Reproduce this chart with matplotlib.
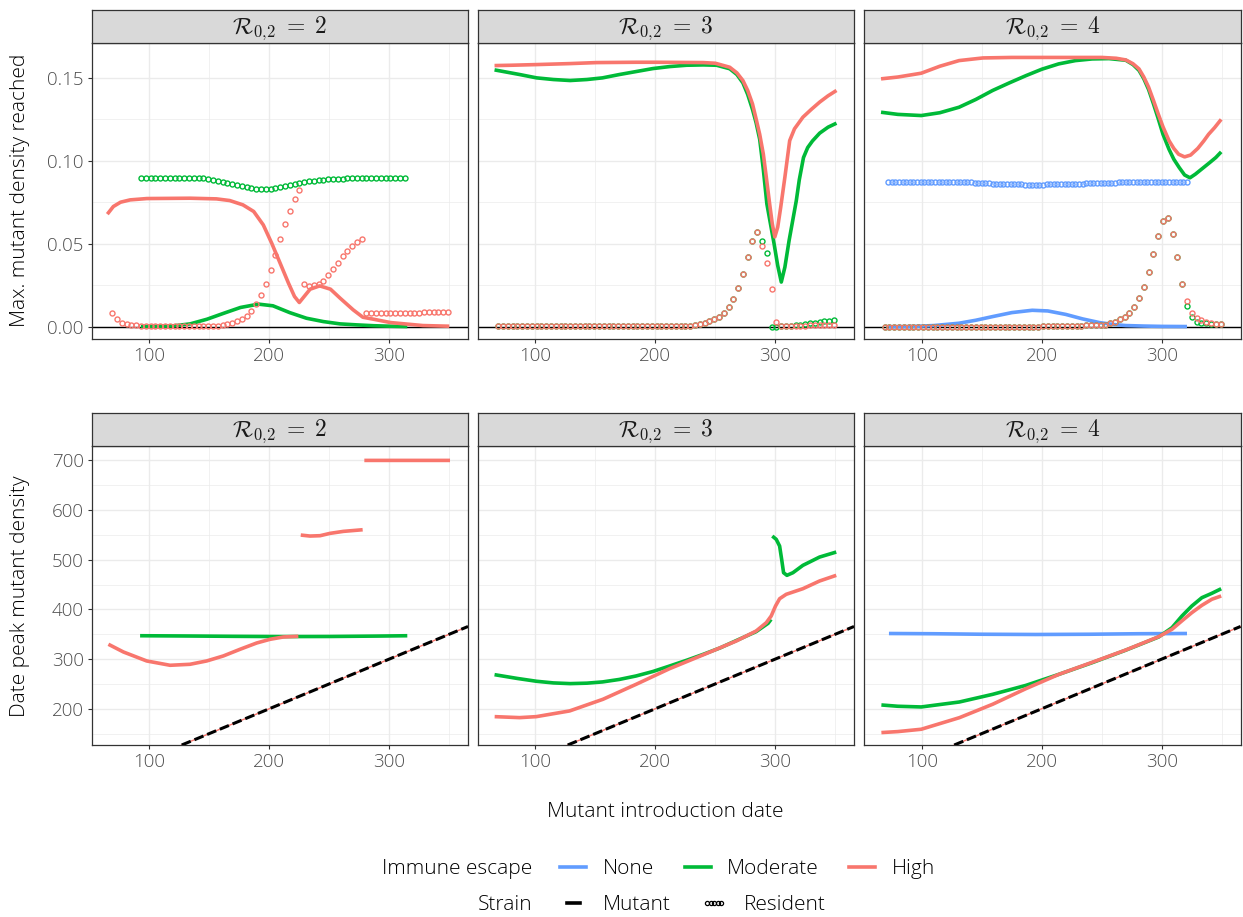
import numpy as np
import matplotlib
matplotlib.use("Agg")
import matplotlib.pyplot as plt
from matplotlib.lines import Line2D
from matplotlib.ticker import MultipleLocator, FormatStrFormatter

plt.rcParams['font.family'] = ['Open Sans', 'DejaVu Sans']
plt.rcParams['font.weight'] = 'light'
plt.rcParams['mathtext.fontset'] = 'cm'

col_none = '#619CFF'
col_mod = '#00BA38'
col_high = '#F8766D'

r0_labels = [r'$\mathcal{R}_{0,\!2}\;=\;2$', r'$\mathcal{R}_{0,\!2}\;=\;3$', r'$\mathcal{R}_{0,\!2}\;=\;4$']

# ---------------- top row: max mutant density (lines = mutant) ----------------
p1_mod_x = [93, 105, 120, 134, 148, 162, 176, 191, 203, 217, 231, 245, 259, 273, 287, 301, 315]
p1_mod_y = [0.0002, 0.0003, 0.0006, 0.0018, 0.0046, 0.0082, 0.0117, 0.0137, 0.0127, 0.0086,
            0.0052, 0.0032, 0.0018, 0.0012, 0.0007, 0.0004, 0.0002]
p1_high_x = [65, 70, 76, 84, 98, 134, 156, 167, 178, 187, 195, 202, 209, 216, 221, 225,
             234, 242, 251, 259, 270, 278, 287, 301, 328, 350]
p1_high_y = [0.0679, 0.0725, 0.0751, 0.0765, 0.0773, 0.0775, 0.0771, 0.0761, 0.0735, 0.0695,
             0.0614, 0.0504, 0.0384, 0.0263, 0.0183, 0.0147, 0.0227, 0.0247, 0.0227, 0.0173,
             0.0102, 0.0058, 0.0046, 0.0026, 0.0008, 0.0004]

p2_mod_x = [66, 87, 101, 115, 129, 143, 156, 170, 184, 198, 212, 226, 240, 251, 262, 268,
            273, 277, 281, 284, 287, 290, 293, 296, 299, 302, 305, 308, 311.5, 314.5, 317.5,
            320, 323.5, 327, 331, 337, 344, 351]
p2_mod_y = [0.1548, 0.1520, 0.1500, 0.1490, 0.1484, 0.1490, 0.1500, 0.1520, 0.1538, 0.1556,
            0.1568, 0.1576, 0.1578, 0.1576, 0.1555, 0.1520, 0.1470, 0.1400, 0.1310, 0.1230,
            0.1130, 0.0950, 0.0740, 0.0620, 0.0500, 0.0370, 0.0270, 0.0360, 0.0520, 0.0640,
            0.0760, 0.0886, 0.1020, 0.1080, 0.1120, 0.1167, 0.1203, 0.1227]
p2_high_x = [66, 80, 101, 129, 151, 184, 201, 240, 250, 262, 268, 273, 277, 281, 284, 287,
             290, 292.5, 295.3, 297.5, 299.6, 302, 304.5, 308, 312, 316, 323, 330, 337, 344, 351]
p2_high_y = [0.1574, 0.1576, 0.1580, 0.1586, 0.1592, 0.1594, 0.1594, 0.1592, 0.1588, 0.1564,
             0.1530, 0.1484, 0.1424, 0.1343, 0.1253, 0.1160, 0.1042, 0.0902, 0.0740, 0.0620,
             0.0542, 0.0600, 0.0720, 0.0902, 0.1122, 0.1193, 0.1263, 0.1310, 0.1354, 0.1392,
             0.1424]

p3_none_x = [72.6, 90, 110, 131, 145, 159, 175, 192, 205, 220, 234, 248, 260, 270, 285, 300, 321]
p3_none_y = [0.0001, 0.0002, 0.0008, 0.0022, 0.0040, 0.0062, 0.0086, 0.0100, 0.0096, 0.0075,
             0.0048, 0.0026, 0.0014, 0.0008, 0.0005, 0.0003, 0.0002]
p3_mod_x = [66, 80, 99.5, 115, 131, 145, 159, 173, 187, 200, 214, 228, 242, 256, 270, 276,
            281, 285, 289, 293, 297, 301, 306, 310, 314.5, 319, 323.5, 328, 334, 340, 345, 349.5]
p3_mod_y = [0.1293, 0.1280, 0.1273, 0.1290, 0.1323, 0.1370, 0.1424, 0.1470, 0.1514, 0.1552,
            0.1584, 0.1604, 0.1614, 0.1616, 0.1606, 0.1580, 0.1545, 0.1495, 0.1430, 0.1345,
            0.1255, 0.1160, 0.1070, 0.1010, 0.0960, 0.0915, 0.0898, 0.0920, 0.0955, 0.0990,
            0.1020, 0.1054]
p3_high_x = [66, 80, 99.5, 115, 131, 151, 175, 200, 250, 262, 270, 276, 281, 285, 289, 293,
             297, 301, 306, 310, 314, 319, 324, 330, 335, 339, 344, 349.5]
p3_high_y = [0.1494, 0.1505, 0.1528, 0.1570, 0.1604, 0.1620, 0.1623, 0.1623, 0.1623, 0.1618,
             0.1608, 0.1585, 0.1554, 0.1505, 0.1444, 0.1365, 0.1283, 0.1205, 0.1122, 0.1075,
             0.1040, 0.1024, 0.1035, 0.1075, 0.1120, 0.1160, 0.1200, 0.1250]

# ---------------- top row: resident density at that time (points) ----------------
dot_dates = np.arange(69, 350, 4)
p1_mod_dot_dates = np.arange(93, 314, 4)
none_dot_dates = np.arange(72, 322, 3)

p1_high_res = [0.0082, 0.0046, 0.0026, 0.0018, 0.0012, 0.0009, 0.0008, 0.0008, 0.0008, 0.0008,
               0.0008, 0.0008, 0.0008, 0.0008, 0.0008, 0.0008, 0.0008, 0.0008, 0.0008, 0.0008,
               0.0008, 0.0008, 0.0008, 0.0012, 0.0017, 0.0024, 0.0034, 0.0048, 0.0064, 0.0096,
               0.0139, 0.0193, 0.0260, 0.0343, 0.0432, 0.0528, 0.0619, 0.0699, 0.0769, 0.0825,
               0.0259, 0.0247, 0.0253, 0.0259, 0.0279, 0.0313, 0.0351, 0.0384, 0.0424, 0.0460,
               0.0490, 0.0514, 0.0532, 0.0082, 0.0082, 0.0083, 0.0083, 0.0084, 0.0084, 0.0085,
               0.0085, 0.0085, 0.0086, 0.0086, 0.0086, 0.0087, 0.0087, 0.0087, 0.0088, 0.0088,
               0.0088]
p1_mod_res = [0.0895, 0.0895, 0.0895, 0.0895, 0.0895, 0.0895, 0.0895, 0.0895, 0.0895, 0.0895,
              0.0895, 0.0895, 0.0895, 0.0895, 0.0889, 0.0884, 0.0879, 0.0873, 0.0866, 0.0859,
              0.0853, 0.0847, 0.0841, 0.0836, 0.0832, 0.0830, 0.0830, 0.0832, 0.0836, 0.0841,
              0.0847, 0.0853, 0.0859, 0.0865, 0.0871, 0.0876, 0.0880, 0.0884, 0.0887, 0.0889,
              0.0891, 0.0892, 0.0893, 0.0894, 0.0895, 0.0895, 0.0895, 0.0895, 0.0895, 0.0895,
              0.0895, 0.0895, 0.0895, 0.0895, 0.0895, 0.0895]

p2_high_res = [0.0005, 0.0005, 0.0005, 0.0005, 0.0005, 0.0005, 0.0005, 0.0005, 0.0005, 0.0005,
               0.0005, 0.0005, 0.0005, 0.0005, 0.0005, 0.0005, 0.0005, 0.0005, 0.0005, 0.0005,
               0.0005, 0.0005, 0.0005, 0.0005, 0.0005, 0.0005, 0.0005, 0.0005, 0.0005, 0.0005,
               0.0005, 0.0005, 0.0005, 0.0005, 0.0005, 0.0005, 0.0005, 0.0005, 0.0005, 0.0006,
               0.0007, 0.0010, 0.0018, 0.0026, 0.0034, 0.0046, 0.0062, 0.0082, 0.0118, 0.0169,
               0.0235, 0.0319, 0.0420, 0.0520, 0.0572, 0.0490, 0.0384, 0.0227, 0.0032, 0.0006,
               0.0006, 0.0007, 0.0007, 0.0008, 0.0008, 0.0009, 0.0009, 0.0010, 0.0010, 0.0011,
               0.0011]
p2_mod_res = [0.0005, 0.0005, 0.0005, 0.0005, 0.0005, 0.0005, 0.0005, 0.0005, 0.0005, 0.0005,
              0.0005, 0.0005, 0.0005, 0.0005, 0.0005, 0.0005, 0.0005, 0.0005, 0.0005, 0.0005,
              0.0005, 0.0005, 0.0005, 0.0005, 0.0005, 0.0005, 0.0005, 0.0005, 0.0005, 0.0005,
              0.0005, 0.0005, 0.0005, 0.0005, 0.0005, 0.0005, 0.0005, 0.0005, 0.0005, 0.0006,
              0.0007, 0.0010, 0.0018, 0.0026, 0.0034, 0.0046, 0.0062, 0.0082, 0.0118, 0.0169,
              0.0235, 0.0319, 0.0420, 0.0520, 0.0572, 0.0520, 0.0448, 0.0001, 0.0002, 0.0004,
              0.0006, 0.0008, 0.0011, 0.0014, 0.0018, 0.0022, 0.0026, 0.0030, 0.0033, 0.0036,
              0.0040]

p3_high_res = [0.0002, 0.0002, 0.0002, 0.0002, 0.0002, 0.0002, 0.0002, 0.0002, 0.0002, 0.0002,
               0.0002, 0.0002, 0.0002, 0.0002, 0.0002, 0.0002, 0.0002, 0.0002, 0.0002, 0.0002,
               0.0002, 0.0002, 0.0002, 0.0002, 0.0002, 0.0002, 0.0002, 0.0002, 0.0002, 0.0002,
               0.0002, 0.0002, 0.0002, 0.0003, 0.0003, 0.0004, 0.0004, 0.0005, 0.0005, 0.0006,
               0.0007, 0.0008, 0.0009, 0.0010, 0.0011, 0.0012, 0.0014, 0.0022, 0.0032, 0.0048,
               0.0062, 0.0082, 0.0118, 0.0171, 0.0241, 0.0329, 0.0438, 0.0548, 0.0640, 0.0655,
               0.0558, 0.0420, 0.0259, 0.0153, 0.0086, 0.0052, 0.0042, 0.0030, 0.0024, 0.0020,
               0.0018]
p3_mod_res = [0.0002, 0.0002, 0.0002, 0.0002, 0.0002, 0.0002, 0.0002, 0.0002, 0.0002, 0.0002,
              0.0002, 0.0002, 0.0002, 0.0002, 0.0002, 0.0002, 0.0002, 0.0002, 0.0002, 0.0002,
              0.0002, 0.0002, 0.0002, 0.0002, 0.0002, 0.0002, 0.0002, 0.0002, 0.0002, 0.0002,
              0.0002, 0.0002, 0.0002, 0.0003, 0.0003, 0.0004, 0.0004, 0.0005, 0.0005, 0.0006,
              0.0007, 0.0008, 0.0009, 0.0010, 0.0011, 0.0012, 0.0014, 0.0022, 0.0032, 0.0048,
              0.0062, 0.0082, 0.0118, 0.0171, 0.0241, 0.0329, 0.0438, 0.0548, 0.0640, 0.0655,
              0.0558, 0.0420, 0.0259, 0.0128, 0.0058, 0.0030, 0.0026, 0.0022, 0.0018, 0.0018,
              0.0018]
p3_none_res = [0.0872, 0.0872, 0.0872, 0.0872, 0.0872, 0.0872, 0.0872, 0.0872, 0.0872, 0.0872,
               0.0872, 0.0872, 0.0872, 0.0872, 0.0872, 0.0872, 0.0872, 0.0872, 0.0872, 0.0872,
               0.0872, 0.0872, 0.0871, 0.0870, 0.0869, 0.0867, 0.0866, 0.0865, 0.0864, 0.0863,
               0.0862, 0.0861, 0.0860, 0.0860, 0.0859, 0.0859, 0.0858, 0.0858, 0.0857, 0.0857,
               0.0857, 0.0857, 0.0857, 0.0857, 0.0858, 0.0858, 0.0858, 0.0859, 0.0859, 0.0860,
               0.0860, 0.0861, 0.0862, 0.0862, 0.0863, 0.0864, 0.0865, 0.0866, 0.0866, 0.0867,
               0.0868, 0.0868, 0.0869, 0.0869, 0.0870, 0.0870, 0.0871, 0.0871, 0.0872, 0.0872,
               0.0872, 0.0872, 0.0872, 0.0872, 0.0872, 0.0872, 0.0872, 0.0872, 0.0872, 0.0872,
               0.0872, 0.0872, 0.0872, 0.0872]

# ---------------- bottom row: date of peak mutant density ----------------
b1_mod_x = [92.3, 130, 170, 210, 250, 290, 315]
b1_mod_y = [347, 346.5, 345.8, 345.3, 345.5, 346.3, 347]
b1_high_x = [65.9, 78.4, 97.8, 117.3, 133.9, 147.8, 161.7, 175.6, 189.5, 200.6, 211.7, 224.2,
             np.nan, 226.2, 233.9, 242.3, 250.6, 261.7, 277.8,
             np.nan, 279.2, 350.6]
b1_high_y = [329.8, 314.3, 296.2, 287.5, 289.5, 296.2, 306.3, 319.7, 332.4, 339.8, 344.5, 345.9,
             np.nan, 549.7, 547.7, 548.4, 553.1, 557.1, 560.4,
             np.nan, 700, 700]

b2_mod_x = [66, 85, 101, 115, 129, 143, 156, 170, 184, 198, 212, 226, 240, 254, 268, 284, 294,
            296.5, np.nan, 297.5, 300.8, 303.6, 305.3, 306.9, 309.7, 314.7, 323, 336.9, 350.8]
b2_mod_y = [268.6, 261, 255.3, 252, 250.6, 251.5, 254, 259, 266, 275, 286.1, 297.5, 309.6, 322.5,
            337.8, 355.2, 372, 380, np.nan, 547.7, 541, 527.6, 500.8, 473.9, 468.6, 473.9, 488.7,
            505.4, 515.5]
b2_high_x = [66.1, 86.9, 100.8, 128.6, 156.4, 184.1, 211.9, 239.7, 267.5, 284.1, 292.5, 296.6,
             300.2, 303.6, 309.1, 323, 336.9, 350.8]
b2_high_y = [184.1, 182.1, 184.1, 195.6, 219.1, 249.3, 280.7, 308.3, 336.4, 356.6, 373.3, 386.8,
             406.9, 421.5, 430.4, 441.7, 457.2, 468.6]

b3_none_x = [72.6, 110, 150, 195, 240, 280, 321]
b3_none_y = [351.5, 351, 350, 349.5, 350, 351, 351.5]
b3_mod_x = [66.3, 80, 99.5, 131.3, 159, 186.7, 214.4, 242, 269.7, 297.4, 308.5, 316.8, 325,
            333.4, 341.7, 349.5]
b3_mod_y = [207.6, 205, 203.6, 213.6, 229, 247, 269.4, 292.8, 317.7, 344.5, 363.2, 386.7, 406.8,
            423.6, 432.4, 441.6]
b3_high_x = [66.3, 80, 99.5, 131.3, 159, 186.7, 214.4, 242, 269.7, 297.4, 308.5, 316.8, 325,
             333.4, 341.7, 349.5]
b3_high_y = [152, 154, 158.7, 182, 209, 240.4, 269.4, 293.5, 318, 345, 360, 377, 393.4, 408.2,
             420.4, 427]

top_lines = [
    [(p1_mod_x, p1_mod_y, col_mod), (p1_high_x, p1_high_y, col_high)],
    [(p2_mod_x, p2_mod_y, col_mod), (p2_high_x, p2_high_y, col_high)],
    [(p3_none_x, p3_none_y, col_none), (p3_mod_x, p3_mod_y, col_mod), (p3_high_x, p3_high_y, col_high)],
]
top_dots = [
    [(p1_mod_dot_dates, p1_mod_res, col_mod), (dot_dates, p1_high_res, col_high)],
    [(dot_dates, p2_mod_res, col_mod), (dot_dates, p2_high_res, col_high)],
    [(none_dot_dates, p3_none_res, col_none), (dot_dates, p3_mod_res, col_mod),
     (dot_dates, p3_high_res, col_high)],
]
bottom_lines = [
    [(b1_mod_x, b1_mod_y, col_mod), (b1_high_x, b1_high_y, col_high)],
    [(b2_mod_x, b2_mod_y, col_mod), (b2_high_x, b2_high_y, col_high)],
    [(b3_none_x, b3_none_y, col_none), (b3_mod_x, b3_mod_y, col_mod), (b3_high_x, b3_high_y, col_high)],
]

W, H = 1243, 917
fig = plt.figure(figsize=(W / 100, H / 100), dpi=100)

lefts = [91.5, 477.5, 864]
pw = 376.5
rows = [(42.5, 339), (446, 745)]
strip_h = 32.5
fs = 15


def add_panel(col, row):
    top, bot = rows[row]
    ax = fig.add_axes([lefts[col] / W, 1 - bot / H, pw / W, (bot - top) / H])
    sax = fig.add_axes([lefts[col] / W, 1 - top / H, pw / W, strip_h / H])
    sax.set_facecolor('#D9D9D9')
    sax.set_xticks([])
    sax.set_yticks([])
    for s in sax.spines.values():
        s.set_color('#333333')
        s.set_linewidth(0.9)
    sax.text(0.5, 0.45, r0_labels[col], ha='center', va='center', fontsize=17, color='#1A1A1A',
             transform=sax.transAxes)

    ax.set_xlim(51.8, 365.6)
    ax.xaxis.set_major_locator(MultipleLocator(100))
    ax.xaxis.set_minor_locator(MultipleLocator(50))
    ax.grid(which='major', color='#EBEBEB', lw=1.0)
    ax.grid(which='minor', color='#EBEBEB', lw=0.5)
    ax.set_axisbelow(True)
    for s in ax.spines.values():
        s.set_color('#333333')
        s.set_linewidth(0.9)
    ax.tick_params(which='major', labelsize=13.5, labelcolor='#4D4D4D', color='#333333',
                   length=3, width=0.8, pad=2.5)
    ax.tick_params(which='minor', length=0)
    if col > 0:
        ax.tick_params(axis='y', which='both', length=0, labelleft=False)
    return ax


for c in range(3):
    ax = add_panel(c, 0)
    ax.set_ylim(-0.0073, 0.1713)
    ax.yaxis.set_major_locator(MultipleLocator(0.05))
    ax.yaxis.set_minor_locator(MultipleLocator(0.025))
    ax.yaxis.set_major_formatter(FormatStrFormatter('%.2f'))
    ax.axhline(0, color='black', lw=1.0, zorder=2)
    for x, y, colr in top_lines[c]:
        ax.plot(x, y, color=colr, lw=2.6, solid_capstyle='butt', solid_joinstyle='round', zorder=3)
    for x, y, colr in top_dots[c]:
        ax.plot(x, y, ls='none', marker='o', ms=3.6, mfc='none', mec=colr, mew=1.0, zorder=4)

for c in range(3):
    ax = add_panel(c, 1)
    ax.set_ylim(127, 729)
    ax.yaxis.set_major_locator(MultipleLocator(100))
    ax.yaxis.set_minor_locator(MultipleLocator(50))
    for x, y, colr in bottom_lines[c]:
        ax.plot(x, y, color=colr, lw=2.6, solid_capstyle='butt', solid_joinstyle='round', zorder=3)
    ax.axline((0, 0), slope=1, color=col_high, lw=1.0, zorder=4)
    ax.axline((0, 0), slope=1, color='black', lw=2.2, ls=(0, (3.2, 1.3)), zorder=5)

fig.text(20 / W, 1 - 190 / H, 'Max. mutant density reached', rotation=90, ha='center',
         va='center', fontsize=fs)
fig.text(20 / W, 1 - 596 / H, 'Date peak mutant density', rotation=90, ha='center',
         va='center', fontsize=fs)
fig.text(665 / W, 1 - 812 / H, 'Mutant introduction date', ha='center', va='center',
         fontsize=fs)

# legends
fig.text(532 / W, 1 - 869 / H, 'Immune escape', ha='right', va='center', fontsize=fs)
fig.text(532 / W, 1 - 905 / H, 'Strain', ha='right', va='center', fontsize=fs)
h1 = [Line2D([], [], color=col_none, lw=2.6), Line2D([], [], color=col_mod, lw=2.6),
      Line2D([], [], color=col_high, lw=2.6)]
leg1 = fig.legend(h1, ['None', 'Moderate', 'High'], loc='center left',
                  bbox_to_anchor=(552 / W, 1 - 869 / H), ncol=3, frameon=False, fontsize=fs,
                  handlelength=1.25, handletextpad=0.8, columnspacing=1.45, borderaxespad=0)
h2 = [Line2D([], [], color='black', lw=2.6),
      Line2D([], [], ls='none', marker='o', ms=3.0, mfc='none', mec='black', mew=0.9)]
leg2 = fig.legend(h2, ['Mutant', 'Resident'], loc='center left',
                  bbox_to_anchor=(552 / W, 1 - 905 / H), ncol=2, frameon=False, fontsize=fs,
                  handlelength=1.25, handletextpad=0.8, columnspacing=1.45, borderaxespad=0,
                  numpoints=5)

fig.savefig('out.png', dpi=100)
